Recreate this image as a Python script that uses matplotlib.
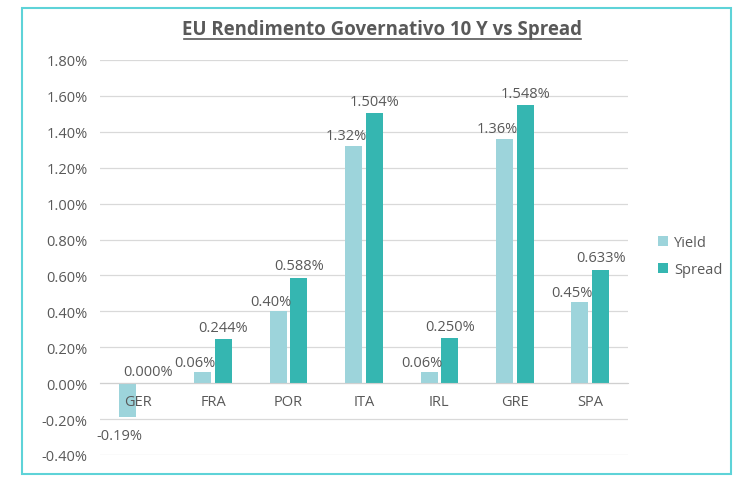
import matplotlib
matplotlib.use("Agg")
import matplotlib.pyplot as plt
from matplotlib.patches import Rectangle
from matplotlib.ticker import FuncFormatter
import numpy as np

categories = ["GER", "FRA", "POR", "ITA", "IRL", "GRE", "SPA"]
yield_vals = [-0.19, 0.06, 0.40, 1.32, 0.06, 1.36, 0.45]
spread_vals = [0.000, 0.244, 0.588, 1.504, 0.250, 1.548, 0.633]
yield_labels = ["-0.19%", "0.06%", "0.40%", "1.32%", "0.06%", "1.36%", "0.45%"]
spread_labels = ["0.000%", "0.244%", "0.588%", "1.504%", "0.250%", "1.548%", "0.633%"]

c_yield = "#9dd4db"
c_spread = "#35b6b1"
txt = "#595959"
font = "Open Sans"
fs = 10.5

fig = plt.figure(figsize=(7.41, 4.81), dpi=100)
fig.patch.set_facecolor("white")

# chart border
fig.patches.append(Rectangle((22/741, 1 - 475/481), (731-22)/741, (475-9)/481,
                             transform=fig.transFigure, fill=False,
                             edgecolor="#5ed3d8", linewidth=1.5))

ax = fig.add_axes([100/741, 1 - 456/481, (628-100)/741, (456-61)/481])
x = np.arange(len(categories))
w = 0.225
gap = 0.025
ax.bar(x - w/2 - gap, yield_vals, width=w, color=c_yield, label="Yield", zorder=3)
ax.bar(x + w/2 + gap, spread_vals, width=w, color=c_spread, label="Spread", zorder=3)

for i in range(len(categories)):
    yv = yield_vals[i]
    if yv < 0:
        ax.annotate(yield_labels[i], (x[i] - w/2 - gap - 0.1, yv), xytext=(0, -8),
                    textcoords="offset points", ha="center", va="top",
                    color=txt, fontsize=fs, family=font, zorder=6)
    else:
        ax.annotate(yield_labels[i], (x[i] - w/2 - gap - 0.1, yv), xytext=(0, 2),
                    textcoords="offset points", ha="center", va="bottom",
                    color=txt, fontsize=fs, family=font, zorder=6)
    ax.annotate(spread_labels[i], (x[i] + w/2 + gap, spread_vals[i]), xytext=(0, 3),
                textcoords="offset points", ha="center", va="bottom",
                color=txt, fontsize=fs, family=font, zorder=6)
    # category labels drawn at the zero line, above the bars
    ax.annotate(categories[i], (x[i], 0), xytext=(0, -8),
                textcoords="offset points", ha="center", va="top",
                color=txt, fontsize=fs, family=font, zorder=6)

ax.set_xlim(-0.5, len(categories) - 0.5)
ax.set_ylim(-0.4, 1.8)
ax.set_yticks(np.arange(-0.4, 1.81, 0.2))
ax.yaxis.set_major_formatter(FuncFormatter(lambda v, p: f"{v:.2f}%"))
ax.grid(axis="y", color="#d9d9d9", linewidth=0.9, zorder=0)
ax.set_axisbelow(True)
for s in ["top", "right", "left"]:
    ax.spines[s].set_visible(False)
ax.spines["bottom"].set_position(("data", 0))
ax.spines["bottom"].set_color("#d0d0d0")
ax.spines["bottom"].set_zorder(4)
ax.set_xticks(x)
ax.set_xticklabels([])
ax.tick_params(axis="x", length=0)
ax.tick_params(axis="y", length=0, pad=9, labelcolor=txt, labelsize=fs)
for lab in ax.get_yticklabels():
    lab.set_family(font)

fig.text(382/741, 1 - 30/481, "EU Rendimento Governativo 10 Y vs Spread",
         ha="center", va="center", fontsize=13.4, fontweight="bold",
         color=txt, family=font)
# underline
fig.add_artist(plt.Line2D([184/741, 581/741], [1 - 40/481, 1 - 40/481],
                          transform=fig.transFigure, color=txt, linewidth=1.2))

leg = ax.legend(loc="center left", bbox_to_anchor=(645/741, 1 - 257/481),
                bbox_transform=fig.transFigure, frameon=False,
                handlelength=0.7, handleheight=0.7, handletextpad=0.4,
                labelspacing=0.8, prop={"family": font, "size": fs})
for t in leg.get_texts():
    t.set_color(txt)

fig.savefig("out.png", dpi=100, facecolor="white")
